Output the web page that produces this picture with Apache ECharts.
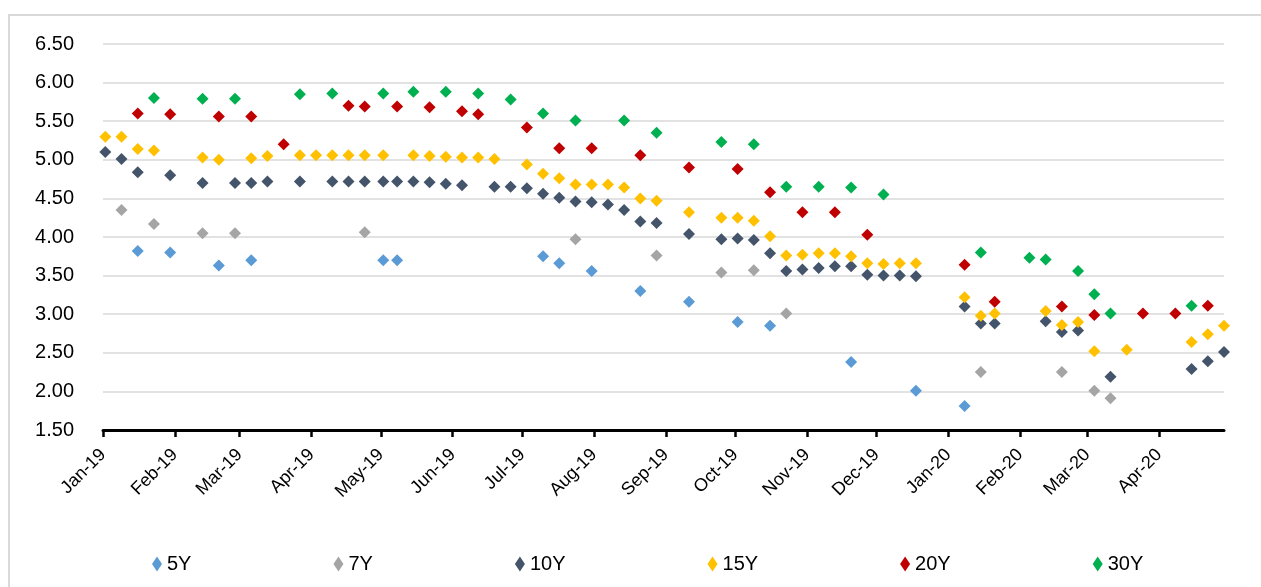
<!DOCTYPE html>
<html>
<head>
<meta charset="utf-8">
<script src="https://cdn.jsdelivr.net/npm/echarts@6/dist/echarts.min.js"></script>
<style>
html,body{margin:0;padding:0;background:#fff;}
#chart{width:1261px;height:587px;}
</style>
</head>
<body>
<div id="chart"></div>
<script>
// ---- data (auction yields, %) ----
var seriesNames = ['5Y', '7Y', '10Y', '15Y', '20Y', '30Y'];
var seriesColors = ['#5B9BD5', '#A5A5A5', '#44546A', '#FFC000', '#C00000', '#00B050'];

var y5 = [
  ['2019-01-16',3.82],['2019-01-30',3.80],['2019-02-20',3.63],['2019-03-06',3.70],
  ['2019-05-02',3.70],['2019-05-08',3.70],['2019-07-10',3.75],['2019-07-17',3.66],
  ['2019-07-31',3.56],['2019-08-21',3.30],['2019-09-11',3.16],['2019-10-02',2.90],
  ['2019-10-16',2.85],['2019-11-20',2.38],['2019-12-18',2.01],['2020-01-08',1.81]
];
var y7 = [
  ['2019-01-09',4.35],['2019-01-23',4.17],['2019-02-13',4.05],['2019-02-27',4.05],
  ['2019-04-24',4.06],['2019-07-24',3.97],['2019-08-28',3.76],['2019-09-25',3.54],
  ['2019-10-09',3.57],['2019-10-23',3.01],['2020-01-15',2.25],['2020-02-19',2.25],
  ['2020-03-04',2.01],['2020-03-11',1.91]
];
var y10 = [
  ['2019-01-02',5.10],['2019-01-09',5.01],['2019-01-16',4.84],['2019-01-30',4.80],
  ['2019-02-13',4.70],['2019-02-27',4.70],['2019-03-06',4.70],['2019-03-13',4.72],
  ['2019-03-27',4.72],['2019-04-10',4.72],['2019-04-17',4.72],['2019-04-24',4.72],
  ['2019-05-02',4.72],['2019-05-08',4.72],['2019-05-15',4.72],['2019-05-22',4.71],
  ['2019-05-29',4.69],['2019-06-05',4.67],['2019-06-19',4.65],['2019-06-26',4.65],
  ['2019-07-03',4.63],['2019-07-10',4.56],['2019-07-17',4.51],['2019-07-24',4.46],
  ['2019-07-31',4.45],['2019-08-07',4.42],['2019-08-14',4.35],['2019-08-21',4.20],
  ['2019-08-28',4.18],['2019-09-11',4.04],['2019-09-25',3.97],['2019-10-02',3.98],
  ['2019-10-09',3.96],['2019-10-16',3.79],['2019-10-23',3.56],['2019-10-30',3.58],
  ['2019-11-06',3.60],['2019-11-13',3.62],['2019-11-20',3.62],['2019-11-27',3.51],
  ['2019-12-04',3.50],['2019-12-11',3.50],['2019-12-18',3.49],['2020-01-08',3.10],
  ['2020-01-15',2.88],['2020-01-21',2.88],['2020-02-12',2.91],['2020-02-19',2.77],
  ['2020-02-26',2.79],['2020-03-11',2.19],['2020-04-15',2.29],['2020-04-22',2.39],
  ['2020-04-29',2.51]
];
var y15 = [
  ['2019-01-02',5.30],['2019-01-09',5.30],['2019-01-16',5.14],['2019-01-23',5.12],
  ['2019-02-13',5.03],['2019-02-20',5.00],['2019-03-06',5.02],['2019-03-13',5.05],
  ['2019-03-27',5.06],['2019-04-03',5.06],['2019-04-10',5.06],['2019-04-17',5.06],
  ['2019-04-24',5.06],['2019-05-02',5.06],['2019-05-15',5.06],['2019-05-22',5.05],
  ['2019-05-29',5.04],['2019-06-05',5.03],['2019-06-12',5.03],['2019-06-19',5.01],
  ['2019-07-03',4.94],['2019-07-10',4.82],['2019-07-17',4.76],['2019-07-24',4.68],
  ['2019-07-31',4.68],['2019-08-07',4.68],['2019-08-14',4.64],['2019-08-21',4.50],
  ['2019-08-28',4.47],['2019-09-11',4.32],['2019-09-25',4.25],['2019-10-02',4.25],
  ['2019-10-09',4.21],['2019-10-16',4.01],['2019-10-23',3.76],['2019-10-30',3.77],
  ['2019-11-06',3.79],['2019-11-13',3.79],['2019-11-20',3.75],['2019-11-27',3.66],
  ['2019-12-04',3.65],['2019-12-11',3.66],['2019-12-18',3.66],['2020-01-08',3.22],
  ['2020-01-15',2.98],['2020-01-21',3.01],['2020-02-12',3.04],['2020-02-19',2.86],
  ['2020-02-26',2.90],['2020-03-04',2.52],['2020-03-18',2.54],['2020-04-15',2.64],
  ['2020-04-22',2.74],['2020-04-29',2.85]
];
var y20 = [
  ['2019-01-16',5.60],['2019-01-30',5.59],['2019-02-20',5.56],['2019-03-06',5.56],
  ['2019-03-20',5.20],['2019-04-17',5.70],['2019-04-24',5.69],['2019-05-08',5.69],
  ['2019-05-22',5.68],['2019-06-05',5.63],['2019-06-12',5.59],['2019-07-03',5.42],
  ['2019-07-17',5.15],['2019-07-31',5.15],['2019-08-21',5.06],['2019-09-11',4.90],
  ['2019-10-02',4.88],['2019-10-16',4.58],['2019-10-30',4.32],['2019-11-13',4.32],
  ['2019-11-27',4.03],['2020-01-08',3.64],['2020-01-21',3.16],['2020-02-19',3.10],
  ['2020-03-04',2.99],['2020-03-25',3.01],['2020-04-08',3.01],['2020-04-22',3.11]
];
var y30 = [
  ['2019-01-23',5.80],['2019-02-13',5.79],['2019-02-27',5.79],['2019-03-27',5.85],
  ['2019-04-10',5.86],['2019-05-02',5.86],['2019-05-15',5.88],['2019-05-29',5.88],
  ['2019-06-12',5.86],['2019-06-26',5.78],['2019-07-10',5.60],['2019-07-24',5.51],
  ['2019-08-14',5.51],['2019-08-28',5.35],['2019-09-25',5.23],['2019-10-09',5.20],
  ['2019-10-23',4.65],['2019-11-06',4.65],['2019-11-20',4.64],['2019-12-04',4.55],
  ['2020-01-15',3.80],['2020-02-05',3.73],['2020-02-12',3.71],['2020-02-26',3.56],
  ['2020-03-04',3.26],['2020-03-11',3.01],['2020-04-15',3.11]
];
var monthTicks = ['2019-01-01','2019-02-01','2019-03-01','2019-04-01','2019-05-01','2019-06-01',
  '2019-07-01','2019-08-01','2019-09-01','2019-10-01','2019-11-01','2019-12-01',
  '2020-01-01','2020-02-01','2020-03-01','2020-04-01'];
var monthNames = ['Jan','Feb','Mar','Apr','May','Jun','Jul','Aug','Sep','Oct','Nov','Dec'];
var axisStart = '2019-01-01';
var axisEnd = '2020-04-29';
var yTicks = {min: 1.5, max: 6.5, interval: 0.5};

// ---- build ----
function ts(s) { var p = s.split('-'); return new Date(+p[0], +p[1] - 1, +p[2]).getTime(); }
var allData = [y5, y7, y10, y15, y20, y30];
var tickTs = monthTicks.map(ts);

var chart = echarts.init(document.getElementById('chart'));
var fontMain = "'Liberation Sans', Arial, sans-serif";
chart.setOption({
  animation: false,
  backgroundColor: '#ffffff',
  graphic: [{
    type: 'rect', silent: true, z: -10,
    shape: {x: 9, y: 15, width: 1300, height: 620},
    style: {fill: 'none', stroke: '#d9d9d9', lineWidth: 2}
  }],
  grid: {left: 103, right: 37, top: 44, bottom: 157},
  legend: {
    data: seriesNames,
    left: 147, top: 549,
    icon: 'diamond', itemWidth: 10, itemHeight: 15, itemGap: 142,
    textStyle: {fontSize: 20, color: '#000', fontFamily: "'Liberation Sans Narrow', 'Liberation Sans', sans-serif"}
  },
  xAxis: {
    type: 'value',
    min: ts(axisStart), max: ts(axisEnd),
    axisLine: {show: true, onZero: false, lineStyle: {color: '#000', width: 3}},
    axisTick: {show: true, customValues: tickTs, length: 7, lineStyle: {color: '#000', width: 2.5}},
    axisLabel: {
      customValues: tickTs, rotate: 45, margin: 22,
      fontSize: 18, color: '#000', fontFamily: fontMain,
      formatter: function (v) { var d = new Date(v); return monthNames[d.getMonth()] + '-' + String(d.getFullYear()).slice(2); }
    },
    splitLine: {show: false}
  },
  yAxis: {
    type: 'value', min: yTicks.min, max: yTicks.max, interval: yTicks.interval,
    axisLine: {show: false}, axisTick: {show: false},
    axisLabel: {fontSize: 20, color: '#000', margin: 29, fontFamily: fontMain,
      formatter: function (v) { return v.toFixed(2); }},
    splitLine: {lineStyle: {color: '#d9d9d9', width: 1.5}}
  },
  series: seriesNames.map(function (n, i) {
    return {
      name: n, type: 'scatter', symbol: 'diamond', symbolSize: 12,
      itemStyle: {color: seriesColors[i], opacity: 1},
      data: allData[i].map(function (p) { return [ts(p[0]), p[1]]; })
    };
  })
});
</script>
</body>
</html>
